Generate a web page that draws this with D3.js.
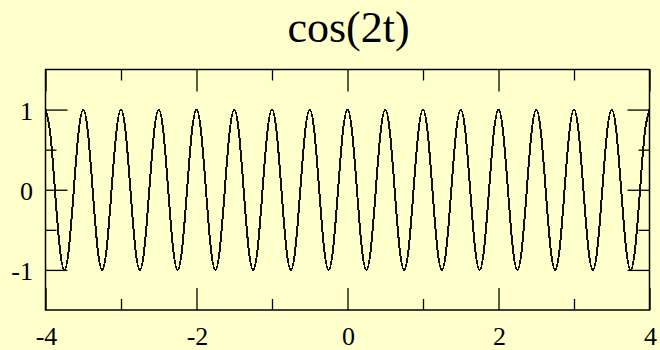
<!DOCTYPE html>
<html>
<head>
<meta charset="utf-8">
<script src="https://cdn.jsdelivr.net/npm/d3@7"></script>
<style>
  html, body { margin: 0; padding: 0; background: #ffffcc; }
  svg { display: block; }
  text { font-family: "Liberation Serif", "Times New Roman", serif; fill: #000; }
</style>
</head>
<body>
<svg id="chart" width="660" height="350"></svg>
<script>
// ---- data ----
const title = "cos(2t)";
const tValues = [
  -4, -3.9375, -3.875, -3.8125, -3.75, -3.6875, -3.625, -3.5625,
  -3.5, -3.4375, -3.375, -3.3125, -3.25, -3.1875, -3.125, -3.0625,
  -3, -2.9375, -2.875, -2.8125, -2.75, -2.6875, -2.625, -2.5625,
  -2.5, -2.4375, -2.375, -2.3125, -2.25, -2.1875, -2.125, -2.0625,
  -2, -1.9375, -1.875, -1.8125, -1.75, -1.6875, -1.625, -1.5625,
  -1.5, -1.4375, -1.375, -1.3125, -1.25, -1.1875, -1.125, -1.0625,
  -1, -0.9375, -0.875, -0.8125, -0.75, -0.6875, -0.625, -0.5625,
  -0.5, -0.4375, -0.375, -0.3125, -0.25, -0.1875, -0.125, -0.0625,
  0, 0.0625, 0.125, 0.1875, 0.25, 0.3125, 0.375, 0.4375,
  0.5, 0.5625, 0.625, 0.6875, 0.75, 0.8125, 0.875, 0.9375,
  1, 1.0625, 1.125, 1.1875, 1.25, 1.3125, 1.375, 1.4375,
  1.5, 1.5625, 1.625, 1.6875, 1.75, 1.8125, 1.875, 1.9375,
  2, 2.0625, 2.125, 2.1875, 2.25, 2.3125, 2.375, 2.4375,
  2.5, 2.5625, 2.625, 2.6875, 2.75, 2.8125, 2.875, 2.9375,
  3, 3.0625, 3.125, 3.1875, 3.25, 3.3125, 3.375, 3.4375,
  3.5, 3.5625, 3.625, 3.6875, 3.75, 3.8125, 3.875, 3.9375,
  4
];
const yValues = [
  1, 0.71, 0, -0.71, -1, -0.71, 0, 0.71,
  1, 0.71, 0, -0.71, -1, -0.71, 0, 0.71,
  1, 0.71, 0, -0.71, -1, -0.71, 0, 0.71,
  1, 0.71, 0, -0.71, -1, -0.71, 0, 0.71,
  1, 0.71, 0, -0.71, -1, -0.71, 0, 0.71,
  1, 0.71, 0, -0.71, -1, -0.71, 0, 0.71,
  1, 0.71, 0, -0.71, -1, -0.71, 0, 0.71,
  1, 0.71, 0, -0.71, -1, -0.71, 0, 0.71,
  1, 0.71, 0, -0.71, -1, -0.71, 0, 0.71,
  1, 0.71, 0, -0.71, -1, -0.71, 0, 0.71,
  1, 0.71, 0, -0.71, -1, -0.71, 0, 0.71,
  1, 0.71, 0, -0.71, -1, -0.71, 0, 0.71,
  1, 0.71, 0, -0.71, -1, -0.71, 0, 0.71,
  1, 0.71, 0, -0.71, -1, -0.71, 0, 0.71,
  1, 0.71, 0, -0.71, -1, -0.71, 0, 0.71,
  1, 0.71, 0, -0.71, -1, -0.71, 0, 0.71,
  1
];
const xMajorTicks = [-4, -2, 0, 2, 4];
const xMinorTicks = [-3, -1, 1, 3];
const yMajorTicks = [-1, 0, 1];
const yMinorTicks = [-0.5, 0.5];
const xDomain = [-4, 4];
const yDomain = [-1.5, 1.5];

// ---- layout ----
const W = 660, H = 350;
const plot = { left: 45.5, right: 649.5, top: 69.5, bottom: 310 };
const majorLen = 22, minorLen = 11;

const svg = d3.select("#chart");
svg.append("rect").attr("width", W).attr("height", H).attr("fill", "#ffffcc");

const x = d3.scaleLinear().domain(xDomain).range([plot.left, plot.right]);
const y = d3.scaleLinear().domain(yDomain).range([plot.bottom, plot.top]);

// title
svg.append("text")
  .attr("x", (plot.left + plot.right) / 2 + 1)
  .attr("y", 42)
  .attr("text-anchor", "middle")
  .style("font-size", "44px")
  .text(title);

// curve
const data = tValues.map((t, i) => ({ t, v: yValues[i] }));
const line = d3.line().x(d => x(d.t)).y(d => y(d.v)).curve(d3.curveNatural);
svg.append("path")
  .datum(data)
  .attr("d", line)
  .attr("fill", "none")
  .attr("stroke", "#111")
  .attr("stroke-width", 2)
  .attr("stroke-linejoin", "round")
  .attr("shape-rendering", "crispEdges");

// axes: inward ticks on all four sides, using d3 axes
const pw = plot.right - plot.left, ph = plot.bottom - plot.top;

function styleAxis(g) {
  g.select(".domain").remove();
  g.selectAll(".tick line").attr("stroke", "#000").attr("stroke-width", 1.3);
  g.selectAll(".tick text").remove();
}

// bottom (inward => ticks go up)
svg.append("g").attr("transform", `translate(0,${plot.bottom})`)
  .call(d3.axisTop(x).tickValues(xMajorTicks).tickSize(majorLen)).call(styleAxis);
svg.append("g").attr("transform", `translate(0,${plot.bottom})`)
  .call(d3.axisTop(x).tickValues(xMinorTicks).tickSize(minorLen)).call(styleAxis);
// top (ticks go down)
svg.append("g").attr("transform", `translate(0,${plot.top})`)
  .call(d3.axisBottom(x).tickValues(xMajorTicks).tickSize(majorLen)).call(styleAxis);
svg.append("g").attr("transform", `translate(0,${plot.top})`)
  .call(d3.axisBottom(x).tickValues(xMinorTicks).tickSize(minorLen)).call(styleAxis);
// left (ticks go right)
svg.append("g").attr("transform", `translate(${plot.left},0)`)
  .call(d3.axisRight(y).tickValues(yMajorTicks).tickSize(majorLen)).call(styleAxis);
svg.append("g").attr("transform", `translate(${plot.left},0)`)
  .call(d3.axisRight(y).tickValues(yMinorTicks).tickSize(minorLen)).call(styleAxis);
// right (ticks go left)
svg.append("g").attr("transform", `translate(${plot.right},0)`)
  .call(d3.axisLeft(y).tickValues(yMajorTicks).tickSize(majorLen)).call(styleAxis);
svg.append("g").attr("transform", `translate(${plot.right},0)`)
  .call(d3.axisLeft(y).tickValues(yMinorTicks).tickSize(minorLen)).call(styleAxis);

// frame
svg.append("rect")
  .attr("x", plot.left).attr("y", plot.top)
  .attr("width", pw).attr("height", ph)
  .attr("fill", "none").attr("stroke", "#000").attr("stroke-width", 1.5);

// tick labels
svg.append("g").selectAll("text").data(xMajorTicks).join("text")
  .attr("x", d => x(d) + 1)
  .attr("y", 345)
  .attr("text-anchor", "middle")
  .style("font-size", "26px")
  .text(d => d3.format("d")(d).replace("−", "-"));

svg.append("g").selectAll("text").data(yMajorTicks).join("text")
  .attr("x", 33)
  .attr("y", d => y(d) + 10)
  .attr("text-anchor", "end")
  .style("font-size", "26px")
  .text(d => d3.format("d")(d).replace("−", "-"));
</script>
</body>
</html>
